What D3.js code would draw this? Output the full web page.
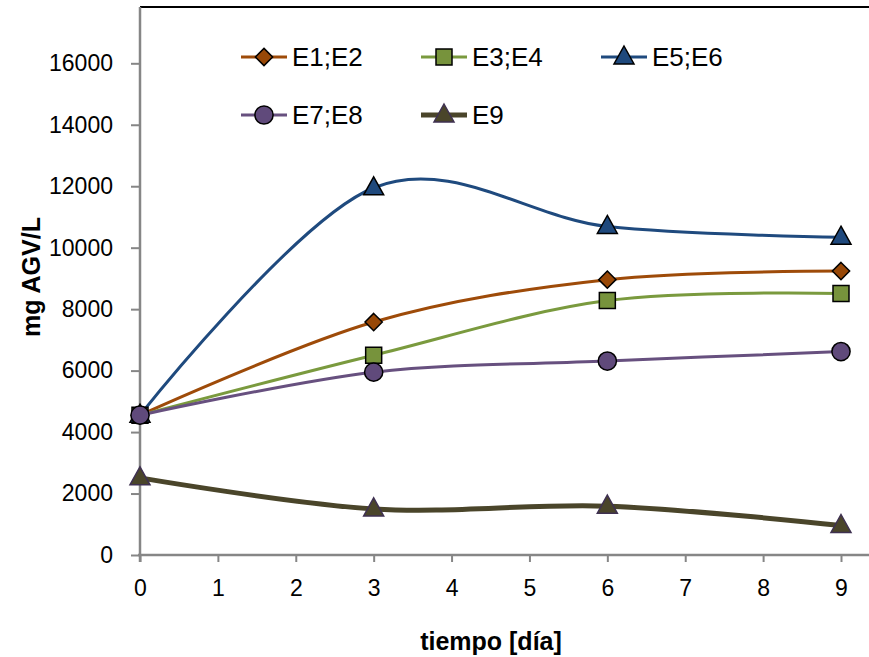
<!DOCTYPE html>
<html lang="es">
<head>
<meta charset="UTF-8">
<title>mg AGV/L vs tiempo</title>
<script src="https://d3js.org/d3.v7.min.js"></script>
<style>
    body { margin: 0; background: #fff; }
    svg { display: block; }
    svg text { font-family: 'Liberation Sans', Arial, sans-serif; fill: #000; }
    svg text.tick-label { font-size: 23px; }
    svg text.axis-title { font-size: 25px; font-weight: bold; }
    svg text.legend-label { font-size: 26px; }
</style>
</head>
<body>
<svg id="chart" width="869" height="657"></svg>
<script>
// days sampled
const days = [0, 3, 6, 9];

// series values (mg AGV/L)
const e1e2 = [4550, 7580, 8960, 9240];
const e3e4 = [4550, 6500, 8280, 8510];
const e5e6 = [4550, 11950, 10690, 10340];
const e7e8 = [4550, 5950, 6310, 6620];
const e9 = [2510, 1500, 1590, 960];

const xTicks = [0, 1, 2, 3, 4, 5, 6, 7, 8, 9];
const yTicks = [0, 2000, 4000, 6000, 8000, 10000, 12000, 14000, 16000];

const series = [
    { name: "E1;E2", values: e1e2, line: "#9e4b09", fill: "#984807", marker: "diamond", width: 3 },
    { name: "E3;E4", values: e3e4, line: "#7a9a3e", fill: "#77933c", marker: "square", width: 3 },
    { name: "E5;E6", values: e5e6, line: "#1f4a7e", fill: "#1f497d", marker: "triangle", width: 3 },
    { name: "E7;E8", values: e7e8, line: "#67507f", fill: "#604a7b", marker: "circle", width: 3 },
    { name: "E9", values: e9, line: "#4a452a", fill: "#4a452a", marker: "triangle", width: 5, stroke: "#3f3151" }
];

const svg = d3.select("#chart");

const x = d3.scaleLinear().domain([0, 9]).range([140, 841]);
const y = d3.scaleLinear().domain([0, 16000]).range([555, 63.3]);

// top border of plot area
svg.append("line")
    .attr("x1", 140).attr("x2", 869)
    .attr("y1", 7).attr("y2", 7)
    .attr("stroke", "#000").attr("stroke-width", 2);

// y axis
const yAxis = svg.append("g").attr("transform", "translate(140,0)")
    .call(d3.axisLeft(y).tickValues(yTicks).tickSize(9).tickPadding(18).tickFormat(d3.format("d")));
yAxis.attr("font-size", null).attr("font-family", null);
yAxis.select(".domain").remove();
yAxis.selectAll(".tick line").attr("stroke", "#868686").attr("stroke-width", 2);
yAxis.selectAll(".tick text").attr("class", "tick-label");
svg.append("line")
    .attr("x1", 140).attr("x2", 140).attr("y1", 7).attr("y2", 562)
    .attr("stroke", "#868686").attr("stroke-width", 2.5);

// x axis
const xAxis = svg.append("g").attr("transform", "translate(0,555)")
    .call(d3.axisBottom(x).tickValues(xTicks).tickSize(7).tickPadding(18).tickFormat(d3.format("d")));
xAxis.attr("font-size", null).attr("font-family", null);
xAxis.select(".domain").remove();
xAxis.selectAll(".tick line").attr("stroke", "#868686").attr("stroke-width", 2);
xAxis.selectAll(".tick text").attr("class", "tick-label");
svg.append("line")
    .attr("x1", 138).attr("x2", 869).attr("y1", 555).attr("y2", 555)
    .attr("stroke", "#868686").attr("stroke-width", 2.5);

// axis titles
svg.append("text").attr("class", "axis-title")
    .attr("x", 491).attr("y", 650).attr("text-anchor", "middle")
    .text("tiempo [día]");
svg.append("text").attr("class", "axis-title")
    .attr("transform", "translate(40,277) rotate(-90)")
    .attr("text-anchor", "middle")
    .text("mg AGV/L");

function markerPath(type) {
    if (type === "diamond") return d3.symbol().type(d3.symbolDiamond2).size(190)();
    if (type === "square") return "M-8,-8H8V8H-8Z";
    if (type === "triangle") return "M0,-11L10,7L-10,7Z";
    return d3.symbol().type(d3.symbolCircle).size(260)();
}

const line = d3.line()
    .x((d, i) => x(days[i]))
    .y(d => y(d))
    .curve(d3.curveCatmullRom.alpha(0));

series.forEach(s => {
    svg.append("path")
        .datum(s.values)
        .attr("d", line)
        .attr("fill", "none")
        .attr("stroke", s.line)
        .attr("stroke-width", s.width)
        .attr("stroke-linecap", "round");
});

series.forEach(s => {
    svg.append("g").selectAll("path")
        .data(s.values)
        .join("path")
        .attr("transform", (d, i) => `translate(${x(days[i])},${y(d)})`)
        .attr("d", markerPath(s.marker))
        .attr("fill", s.fill)
        .attr("stroke", s.stroke || "#000")
        .attr("stroke-width", 1.5);
});

// legend
const legendPos = [
    { x: 241, y: 57 }, { x: 421, y: 57 }, { x: 601, y: 57 },
    { x: 241, y: 115 }, { x: 421, y: 115 }
];
series.forEach((s, i) => {
    const p = legendPos[i];
    const g = svg.append("g").attr("transform", `translate(${p.x},${p.y})`);
    g.append("line").attr("x1", 0).attr("x2", 46).attr("y1", 0).attr("y2", 0)
        .attr("stroke", s.line).attr("stroke-width", s.width);
    g.append("path").attr("transform", "translate(23,0)")
        .attr("d", markerPath(s.marker))
        .attr("fill", s.fill).attr("stroke", s.stroke || "#000").attr("stroke-width", 1.5);
    g.append("text").attr("class", "legend-label")
        .attr("x", 51).attr("y", 9).text(s.name);
});
</script>
</body>
</html>
